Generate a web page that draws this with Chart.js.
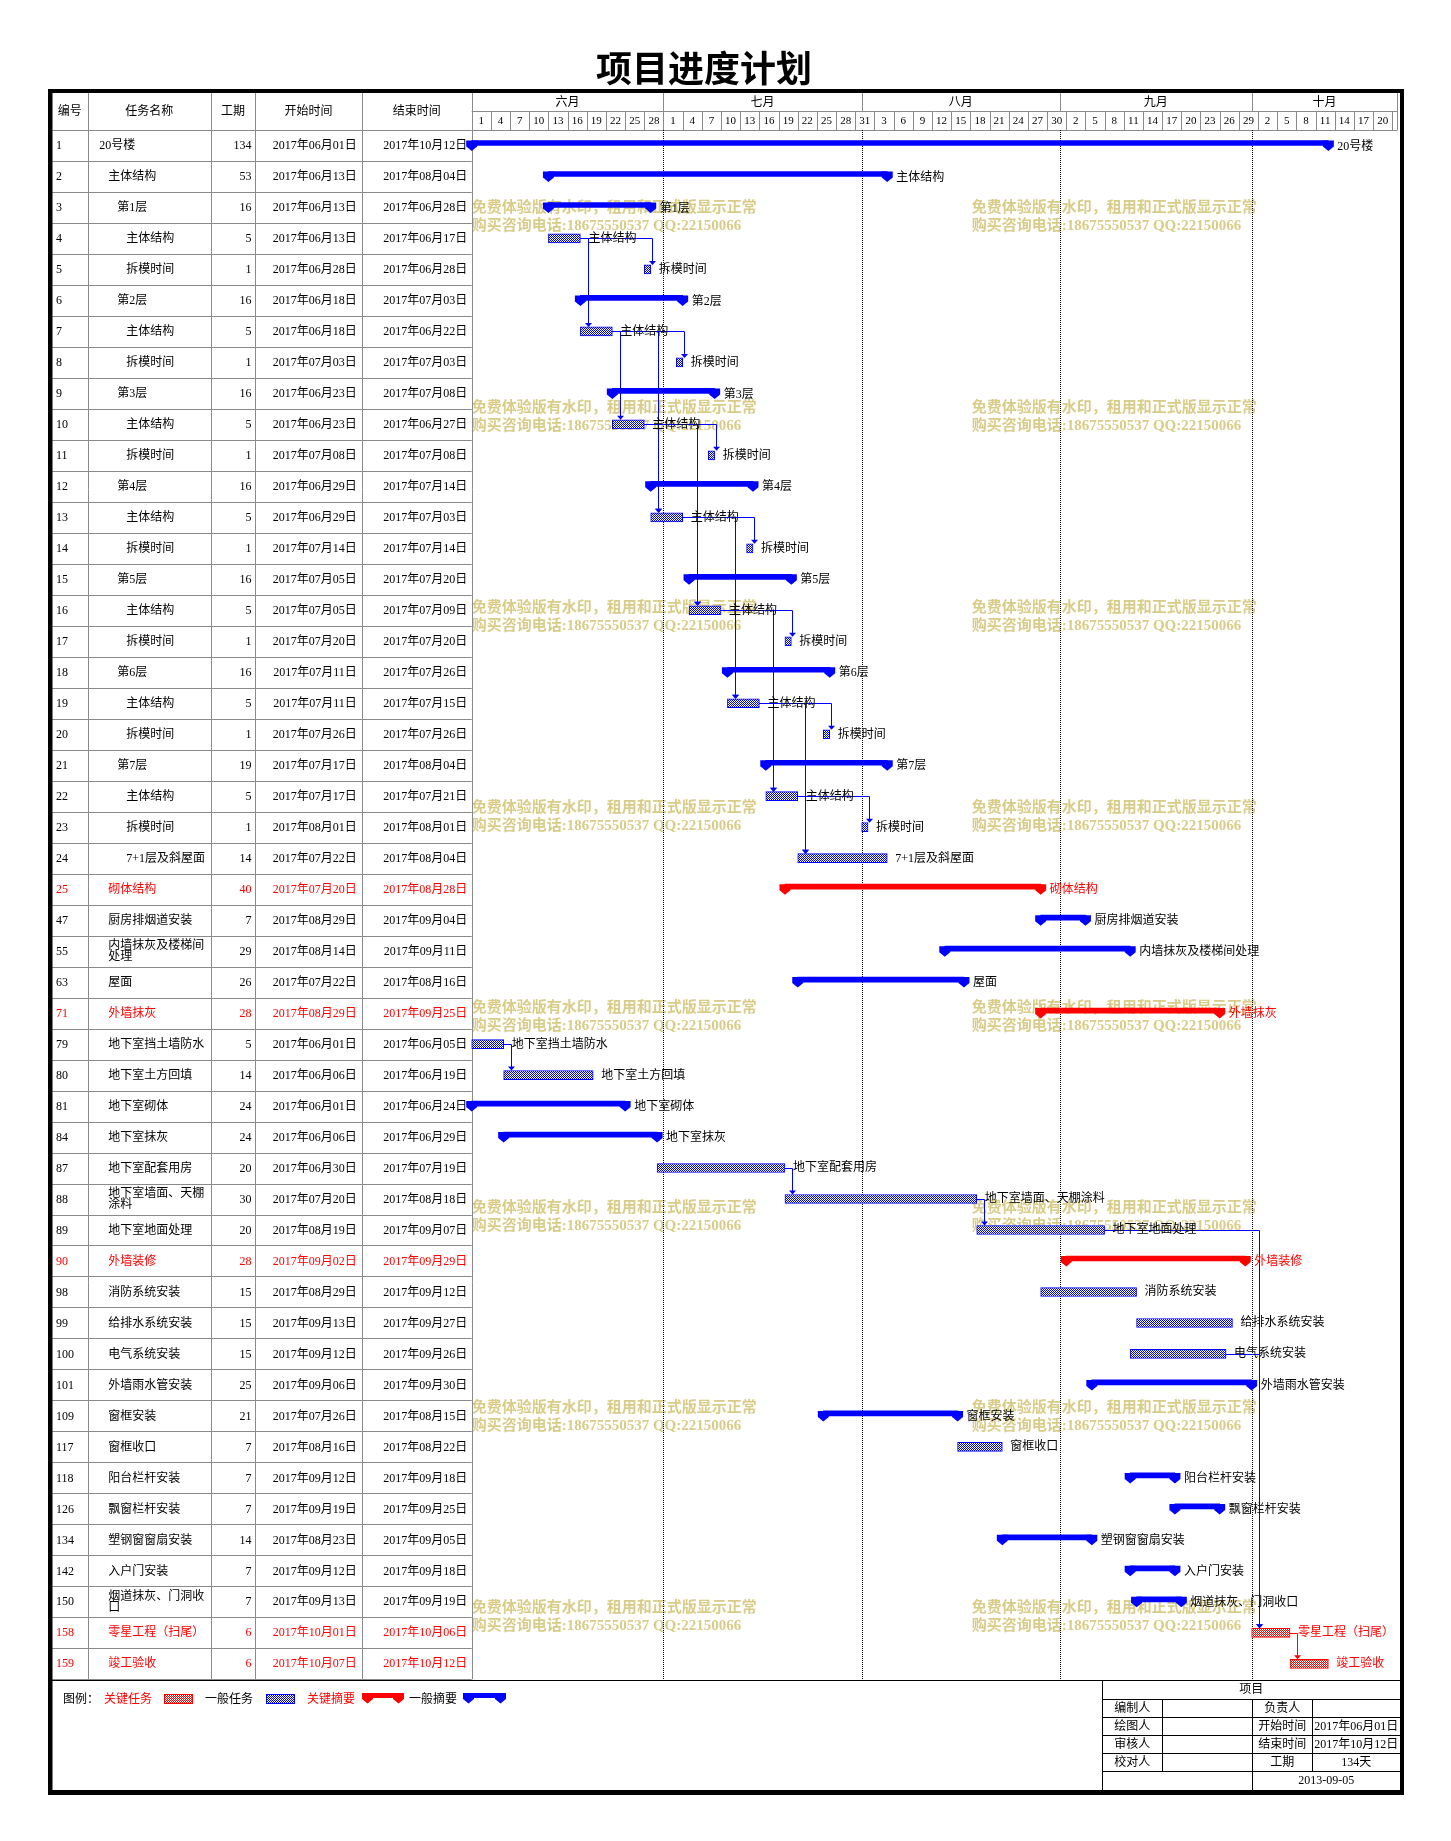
<!DOCTYPE html>
<html lang="zh-CN">
<head>
<meta charset="utf-8">
<title>项目进度计划</title>
<script src="https://cdn.jsdelivr.net/npm/chart.js@4.4.1/dist/chart.umd.min.js"></script>
<style>
html,body{margin:0;padding:0;background:#fff;}
#c{display:block;}
</style>
</head>
<body>
<canvas id="c" width="1451" height="1841"></canvas>
<script>
// ---------------- data ----------------
const titleText = '项目进度计划';
const headerLabels = ['编号','任务名称','工期','开始时间','结束时间'];
const taskIds = ['1','2','3','4','5','6','7','8','9','10','11','12','13','14','15','16','17','18','19','20','21','22','23','24','25','47','55','63','71','79','80','81','84','87','88','89','90','98','99','100','101','109','117','118','126','134','142','150','158','159'];
const taskNames = ['20号楼','主体结构','第1层','主体结构','拆模时间','第2层','主体结构','拆模时间','第3层','主体结构','拆模时间','第4层','主体结构','拆模时间','第5层','主体结构','拆模时间','第6层','主体结构','拆模时间','第7层','主体结构','拆模时间','7+1层及斜屋面','砌体结构','厨房排烟道安装','内墙抹灰及楼梯间处理','屋面','外墙抹灰','地下室挡土墙防水','地下室土方回填','地下室砌体','地下室抹灰','地下室配套用房','地下室墙面、天棚涂料','地下室地面处理','外墙装修','消防系统安装','给排水系统安装','电气系统安装','外墙雨水管安装','窗框安装','窗框收口','阳台栏杆安装','飘窗栏杆安装','塑钢窗窗扇安装','入户门安装','烟道抹灰、门洞收口','零星工程（扫尾）','竣工验收'];
const taskLevels = [1,2,3,4,4,3,4,4,3,4,4,3,4,4,3,4,4,3,4,4,3,4,4,4,2,2,2,2,2,2,2,2,2,2,2,2,2,2,2,2,2,2,2,2,2,2,2,2,2,2];
const taskDurations = [134,53,16,5,1,16,5,1,16,5,1,16,5,1,16,5,1,16,5,1,19,5,1,14,40,7,29,26,28,5,14,24,24,20,30,20,28,15,15,15,25,21,7,7,7,14,7,7,6,6];
const taskStarts = ['06-01','06-13','06-13','06-13','06-28','06-18','06-18','07-03','06-23','06-23','07-08','06-29','06-29','07-14','07-05','07-05','07-20','07-11','07-11','07-26','07-17','07-17','08-01','07-22','07-20','08-29','08-14','07-22','08-29','06-01','06-06','06-01','06-06','06-30','07-20','08-19','09-02','08-29','09-13','09-12','09-06','07-26','08-16','09-12','09-19','08-23','09-12','09-13','10-01','10-07'];
const taskEnds = ['10-12','08-04','06-28','06-17','06-28','07-03','06-22','07-03','07-08','06-27','07-08','07-14','07-03','07-14','07-20','07-09','07-20','07-26','07-15','07-26','08-04','07-21','08-01','08-04','08-28','09-04','09-11','08-16','09-25','06-05','06-19','06-24','06-29','07-19','08-18','09-07','09-29','09-12','09-27','09-26','09-30','08-15','08-22','09-18','09-25','09-05','09-18','09-19','10-06','10-12'];
const taskKinds = ['S','S','S','T','T','S','T','T','S','T','T','S','T','T','S','T','T','S','T','T','S','T','T','T','S','S','S','S','S','T','T','S','S','T','T','T','S','T','T','T','S','S','T','S','S','S','S','S','T','T'];
const criticalIds = ['25','71','90','158','159'];
const links = [['4','5'],['4','7'],['7','8'],['7','10'],['7','13'],['10','11'],['10','13'],['10','16'],['13','14'],['13','16'],['13','19'],['16','17'],['16','19'],['16','22'],['19','20'],['19','22'],['19','24'],['22','23'],['22','24'],['79','80'],['87','88'],['88','89'],['89','158'],['100','158'],['158','159']];
const yearText = '2017';
const monthNames = ['六月','七月','八月','九月','十月'];
const monthStartDays = [0,30,61,92,122];
const dayTickLabels = ['1','4','7','10','13','16','19','22','25','28','1','4','7','10','13','16','19','22','25','28','31','3','6','9','12','15','18','21','24','27','30','2','5','8','11','14','17','20','23','26','29','2','5','8','11','14','17','20'];
const legendLabels = ['关键任务','一般任务','关键摘要','一般摘要'];
const infoHeader = '项目';
const infoLeftLabels = ['编制人','绘图人','审核人','校对人'];
const infoRightLabels = ['负责人','开始时间','结束时间','工期'];
const infoRightValues = ['','2017年06月01日','2017年10月12日','134天'];
const infoDate = '2013-09-05';
const watermarkLines = ['免费体验版有水印，租用和正式版显示正常','购买咨询电话:18675550537 QQ:22150066'];

// ---------------- helpers ----------------
const FONT_MIX = '"Liberation Serif", "Noto Sans CJK SC", serif';
const FONT_CJK = '"Noto Sans CJK SC", sans-serif';
const BLUE = '#0000ff', RED = '#ff0000', GRID = '#8a8a8a', WM = '#d9cc88';
const SUM_SHIFT = -2.5;
const COLX = [52, 87.7, 210.7, 255.3, 361.7, 471.7];

function dayIndex(s){ const m = parseInt(s.slice(0,2),10), d = parseInt(s.slice(3),10); return monthStartDays[m-6] + d - 1; }
function fmtDate(s){ return yearText + '年' + s.slice(0,2) + '月' + s.slice(3) + '日'; }
function isCrit(i){ return criticalIds.indexOf(taskIds[i]) >= 0; }
function px(v){ return Math.round(v) + 0.5; }
function hline(ctx,x1,x2,y){ ctx.beginPath(); ctx.moveTo(x1,px(y)); ctx.lineTo(x2,px(y)); ctx.stroke(); }
function vline(ctx,x,y1,y2){ ctx.beginPath(); ctx.moveTo(px(x),y1); ctx.lineTo(px(x),y2); ctx.stroke(); }

const canvas = document.getElementById('c');
const ctx0 = canvas.getContext('2d');
function makePattern(color){
  const pc = document.createElement('canvas'); pc.width = 2; pc.height = 2;
  const p = pc.getContext('2d');
  p.fillStyle = '#fff'; p.fillRect(0,0,2,2);
  p.fillStyle = color; p.fillRect(0,0,1,1); p.fillRect(1,1,1,1);
  return ctx0.createPattern(pc,'repeat');
}
const bluePat = makePattern(BLUE), redPat = makePattern(RED);

function seriesFor(kind, crit){
  return taskIds.map((id,i) => (taskKinds[i] === kind && isCrit(i) === crit) ? [dayIndex(taskStarts[i]), dayIndex(taskEnds[i]) + 1] : null);
}

function drawCap(ctx, cx, top){
  ctx.beginPath();
  ctx.moveTo(cx-5.5, top); ctx.lineTo(cx+5.5, top); ctx.lineTo(cx+5.5, top+6);
  ctx.lineTo(cx, top+10.5); ctx.lineTo(cx-5.5, top+6); ctx.closePath(); ctx.fill();
}
function wrapText(ctx, text, maxW){
  const lines = []; let cur = '';
  for (const ch of text){
    if (cur && ctx.measureText(cur+ch).width > maxW){ lines.push(cur); cur = ch; } else cur += ch;
  }
  lines.push(cur); return lines;
}

// ---------------- plugins ----------------
const backgroundPlugin = {
  id: 'ganttBackground',
  beforeDatasetsDraw(chart){
    const ctx = chart.ctx, xs = chart.scales.x, ys = chart.scales.y, a = chart.chartArea;
    const n = taskIds.length, band = (a.bottom - a.top) / n;
    ctx.save();
    // title
    ctx.fillStyle = '#000'; ctx.textAlign = 'center'; ctx.textBaseline = 'middle';
    ctx.font = 'bold 36px ' + FONT_CJK;
    ctx.fillText(titleText, 704, 68);

    // watermark
    ctx.fillStyle = WM; ctx.textAlign = 'left'; ctx.font = 'bold 15px ' + FONT_MIX;
    for (let r = 0; r < 8; r++){
      [471.7, 971.7].forEach(x => {
        ctx.fillText(watermarkLines[0], x, 208 + 200*r);
        ctx.fillText(watermarkLines[1], x, 226 + 200*r);
      });
    }

    // table grid
    ctx.strokeStyle = GRID; ctx.lineWidth = 1;
    for (let c = 1; c < COLX.length; c++) vline(ctx, COLX[c], 93, a.bottom);
    for (let i = 0; i <= n; i++) hline(ctx, 52, COLX[5], a.top + i*band);

    // timeline header grid
    hline(ctx, a.left, a.right, 111);
    hline(ctx, a.left, a.right, 129.5);
    monthStartDays.forEach(d => vline(ctx, xs.getPixelForValue(d), 93, 111));
    for (let k = 0; k <= dayTickLabels.length; k++) vline(ctx, xs.getPixelForValue(3*k), 111, 130);
    vline(ctx, a.right, 93, 130);

    // header texts
    ctx.fillStyle = '#000'; ctx.textAlign = 'center'; ctx.textBaseline = 'middle';
    ctx.font = '12px ' + FONT_MIX;
    for (let c = 0; c < headerLabels.length; c++){
      ctx.fillText(headerLabels[c], (COLX[c] + COLX[c+1]) / 2, 112);
    }
    monthNames.forEach((m, i) => {
      const x1 = xs.getPixelForValue(monthStartDays[i]);
      const x2 = i < monthNames.length - 1 ? xs.getPixelForValue(monthStartDays[i+1]) : a.right;
      ctx.fillText(m, (x1 + x2) / 2, 102.5);
    });
    ctx.font = '11px ' + FONT_MIX;
    dayTickLabels.forEach((t, k) => {
      ctx.fillText(t, (xs.getPixelForValue(3*k) + xs.getPixelForValue(3*k+3)) / 2, 121);
    });

    // table rows
    for (let i = 0; i < n; i++){
      const y = ys.getPixelForValue(i) + 0.5;
      ctx.fillStyle = isCrit(i) ? RED : '#000';
      ctx.font = '12px ' + FONT_MIX;
      ctx.textAlign = 'left';
      ctx.fillText(taskIds[i], 56, y);
      const nx = 99.3 + (taskLevels[i]-1)*9;
      const lines = wrapText(ctx, taskNames[i], COLX[2] - nx - 2);
      if (lines.length === 1) ctx.fillText(lines[0], nx, y);
      else { ctx.fillText(lines[0], nx, y - 5.5); ctx.fillText(lines[1], nx, y + 5.5); }
      ctx.textAlign = 'right';
      ctx.fillText(String(taskDurations[i]), COLX[3] - 3.8, y);
      ctx.fillText(fmtDate(taskStarts[i]), COLX[4] - 5, y);
      ctx.fillText(fmtDate(taskEnds[i]), COLX[5] - 4.5, y);
    }

    // month dotted lines
    ctx.strokeStyle = '#000'; ctx.setLineDash([1,1]);
    for (let i = 1; i < monthStartDays.length; i++) vline(ctx, xs.getPixelForValue(monthStartDays[i]), a.top, 1680);
    ctx.setLineDash([]);
    ctx.restore();
  }
};

const summaryPlugin = {
  id: 'ganttSummary',
  beforeDatasetDraw(chart, args){
    if (chart.data.datasets[args.index].summary){ chart.ctx.save(); chart.ctx.translate(0, SUM_SHIFT); }
  },
  afterDatasetDraw(chart, args){
    const ds = chart.data.datasets[args.index];
    if (!ds.summary) return;
    const ctx = chart.ctx;
    ctx.fillStyle = ds.backgroundColor;
    args.meta.data.forEach((el, i) => {
      if (!ds.data[i]) return;
      const p = el.getProps(['x','base','y','height'], true);
      const top = p.y - p.height / 2;
      drawCap(ctx, p.base, top);
      drawCap(ctx, p.x, top);
    });
    ctx.restore();
  }
};

const overlayPlugin = {
  id: 'ganttOverlay',
  afterDatasetsDraw(chart){
    const ctx = chart.ctx, xs = chart.scales.x, ys = chart.scales.y;
    const geom = i => ({
      x1: xs.getPixelForValue(dayIndex(taskStarts[i])),
      x2: xs.getPixelForValue(dayIndex(taskEnds[i]) + 1),
      y: ys.getPixelForValue(i)
    });
    ctx.save();
    // links
    ctx.lineWidth = 1;
    links.forEach(([f, t]) => {
      const fi = taskIds.indexOf(f), ti = taskIds.indexOf(t);
      const pf = geom(fi), pt = geom(ti);
      const col = (isCrit(fi) && isCrit(ti)) ? RED : BLUE;
      const ax = pt.x1 + 7.5, y = px(pf.y), topY = pt.y - 4.5;
      ctx.strokeStyle = col; ctx.fillStyle = col;
      ctx.beginPath(); ctx.moveTo(pf.x2, y); ctx.lineTo(px(ax), y); ctx.lineTo(px(ax), topY - 3.5); ctx.stroke();
      ctx.beginPath(); ctx.moveTo(px(ax) - 3.5, topY - 4); ctx.lineTo(px(ax) + 3.5, topY - 4); ctx.lineTo(px(ax), topY); ctx.closePath(); ctx.fill();
    });
    // bar labels
    ctx.font = '12px ' + FONT_MIX; ctx.textAlign = 'left'; ctx.textBaseline = 'middle';
    taskIds.forEach((id, i) => {
      const g = geom(i), sum = taskKinds[i] === 'S';
      ctx.fillStyle = isCrit(i) ? RED : '#000';
      ctx.fillText(taskNames[i], g.x2 + (sum ? 9 : 8), g.y + (sum ? 1 : 0.3));
    });
    ctx.restore();
  },
  afterDraw(chart){
    const ctx = chart.ctx;
    ctx.save();
    // separator line
    ctx.strokeStyle = '#000'; ctx.lineWidth = 1;
    hline(ctx, 52, 1400, 1680);

    // legend
    const ly = 1699.5;
    ctx.textBaseline = 'middle'; ctx.textAlign = 'left'; ctx.font = '12px ' + FONT_MIX;
    ctx.fillStyle = '#000'; ctx.fillText('图例：', 63, ly);
    ctx.fillStyle = RED; ctx.fillText(legendLabels[0], 104, ly);
    ctx.fillStyle = redPat; ctx.fillRect(164, 1694, 29, 10);
    ctx.strokeStyle = RED; ctx.strokeRect(164.5, 1694.5, 28, 9);
    ctx.fillStyle = '#000'; ctx.fillText(legendLabels[1], 205, ly);
    ctx.fillStyle = bluePat; ctx.fillRect(266, 1694, 29, 10);
    ctx.strokeStyle = BLUE; ctx.strokeRect(266.5, 1694.5, 28, 9);
    ctx.fillStyle = RED; ctx.fillText(legendLabels[2], 307, ly);
    ctx.fillRect(362, 1693, 42, 5); drawCap(ctx, 367.5, 1693); drawCap(ctx, 398.5, 1693);
    ctx.fillStyle = '#000'; ctx.fillText(legendLabels[3], 409, ly);
    ctx.fillStyle = BLUE;
    ctx.fillRect(463, 1693, 43, 5); drawCap(ctx, 468.5, 1693); drawCap(ctx, 500.5, 1693);

    // info table
    ctx.strokeStyle = '#000'; ctx.lineWidth = 1;
    const ix = [1102.3, 1162.3, 1252.3, 1312.3, 1400];
    const iy = [1680, 1699.3, 1717.3, 1735.3, 1753.3, 1771.3, 1790];
    vline(ctx, ix[0], 1680, 1790);
    for (let r = 1; r <= 5; r++) hline(ctx, ix[0], 1400, iy[r]);
    vline(ctx, ix[1], iy[1], iy[5]);
    vline(ctx, ix[2], iy[1], iy[6]);
    vline(ctx, ix[3], iy[1], iy[5]);
    ctx.fillStyle = '#000'; ctx.textAlign = 'center'; ctx.font = '12px ' + FONT_MIX;
    ctx.fillText(infoHeader, (ix[0] + ix[4]) / 2, (iy[0] + iy[1]) / 2 + 0.5);
    for (let r = 0; r < 4; r++){
      const cy = (iy[r+1] + iy[r+2]) / 2 + 0.5;
      ctx.fillText(infoLeftLabels[r], (ix[0] + ix[1]) / 2, cy);
      ctx.fillText(infoRightLabels[r], (ix[2] + ix[3]) / 2, cy);
      ctx.fillText(infoRightValues[r], (ix[3] + ix[4]) / 2, cy);
    }
    ctx.fillText(infoDate, (ix[2] + ix[4]) / 2, (iy[5] + iy[6]) / 2 + 0.5);

    // outer frame
    ctx.fillStyle = '#000';
    ctx.fillRect(48, 89, 1356, 4);
    ctx.fillRect(48, 1790, 1356, 5);
    ctx.fillRect(48, 89, 4.5, 1706);
    ctx.fillRect(1400, 89, 4, 1706);
    ctx.restore();
  }
};

// ---------------- chart ----------------
const common = { grouped: false, clip: false, borderSkipped: false };
new Chart(canvas, {
  type: 'bar',
  data: {
    labels: taskIds,
    datasets: [
      Object.assign({ label: '一般任务', data: seriesFor('T', false), barThickness: 9, backgroundColor: bluePat, borderColor: BLUE, borderWidth: 1 }, common),
      Object.assign({ label: '关键任务', data: seriesFor('T', true), barThickness: 9, backgroundColor: redPat, borderColor: RED, borderWidth: 1 }, common),
      Object.assign({ label: '一般摘要', data: seriesFor('S', false), barThickness: 5, backgroundColor: BLUE, borderWidth: 0, summary: true }, common),
      Object.assign({ label: '关键摘要', data: seriesFor('S', true), barThickness: 5, backgroundColor: RED, borderWidth: 0, summary: true }, common)
    ]
  },
  options: {
    indexAxis: 'y',
    responsive: false,
    animation: false,
    devicePixelRatio: 1,
    events: [],
    layout: { padding: { left: 471.7, right: 53.6, top: 130, bottom: 161.7 } },
    scales: {
      x: { type: 'linear', min: 0, max: 144.8, display: false },
      y: { type: 'category', offset: true, display: false }
    },
    plugins: { legend: { display: false }, tooltip: { enabled: false }, title: { display: false } }
  },
  plugins: [backgroundPlugin, summaryPlugin, overlayPlugin]
});
</script>
</body>
</html>
